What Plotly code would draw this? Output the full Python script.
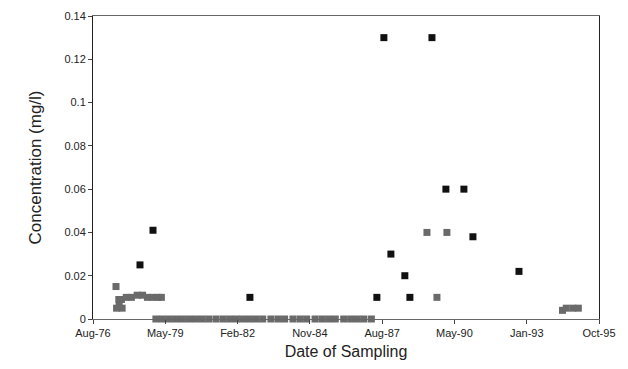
import pandas as pd
import plotly.graph_objects as go

# Black series (detected values)
black_dates = ["1978-06-09", "1978-12-06", "1982-08-08", "1987-05-30", "1987-09-04",
               "1987-12-10", "1988-06-20", "1988-08-29", "1989-06-30", "1990-01-09",
               "1990-09-15", "1991-01-18", "1992-10-16"]
black_vals = [0.025, 0.041, 0.010, 0.010, 0.130,
              0.030, 0.020, 0.010, 0.130, 0.060,
              0.060, 0.038, 0.022]

# Gray series (non-zero)
gray_dates = ["1977-07-12", "1977-07-20", "1977-08-25", "1977-10-05",
              "1977-08-20", "1977-09-25", "1977-12-01", "1978-02-10", "1978-05-01",
              "1978-07-15", "1978-09-20", "1978-12-01", "1979-02-15", "1979-04-01",
              "1989-04-22", "1989-09-07", "1990-01-23",
              "1994-06-10", "1994-08-01", "1994-11-01", "1995-01-15"]
gray_vals = [0.015, 0.005, 0.006, 0.005,
             0.009, 0.009, 0.010, 0.010, 0.011,
             0.011, 0.010, 0.010, 0.010, 0.010,
             0.040, 0.010, 0.040,
             0.004, 0.005, 0.005, 0.005]

# Gray series (zero / below detection)
zero_dates = ["1979-01-15", "1979-04-15", "1979-07-15", "1979-10-15", "1980-01-15",
              "1980-04-15", "1980-07-15", "1980-10-15", "1981-01-15", "1981-04-25",
              "1981-08-01", "1981-11-01", "1982-02-01", "1982-05-01", "1982-08-01",
              "1982-11-01", "1983-02-01", "1983-05-25", "1983-09-01", "1983-12-01",
              "1984-03-25", "1984-07-01", "1984-10-01", "1985-01-25", "1985-05-01",
              "1985-08-01", "1985-11-01", "1986-02-25", "1986-06-01", "1986-09-01",
              "1986-12-01", "1987-03-15"]
zero_vals = [0.0] * len(zero_dates)

tick_labels = ["Aug-76", "May-79", "Feb-82", "Nov-84", "Aug-87", "May-90", "Jan-93", "Oct-95"]
tick_serials = [28000, 29000, 30000, 31000, 32000, 33000, 34000, 35000]

base = pd.Timestamp("1899-12-30")
tick_vals = [base + pd.Timedelta(days=s) for s in tick_serials]

fig = go.Figure()
fig.add_trace(go.Scatter(x=zero_dates, y=zero_vals, mode="markers",
                         marker=dict(symbol="square", size=7, color="#6a6a6a"),
                         cliponaxis=False, showlegend=False))
fig.add_trace(go.Scatter(x=gray_dates, y=gray_vals, mode="markers",
                         marker=dict(symbol="square", size=7, color="#6a6a6a"),
                         cliponaxis=False, showlegend=False))
fig.add_trace(go.Scatter(x=black_dates, y=black_vals, mode="markers",
                         marker=dict(symbol="square", size=7, color="#111111"),
                         cliponaxis=False, showlegend=False))

fig.update_layout(
    width=620, height=361,
    margin=dict(l=85, r=29, t=8, b=50),
    paper_bgcolor="white", plot_bgcolor="white",
    font=dict(family="Liberation Sans, Arial, sans-serif", color="#222"),
    xaxis=dict(
        type="date", automargin=False,
        range=[tick_vals[0], tick_vals[-1]],
        tickmode="array", tickvals=tick_vals, ticktext=tick_labels,
        ticks="outside", ticklen=4, tickcolor="#444",
        showline=True, linecolor="#666", linewidth=1, mirror=True,
        showgrid=False, zeroline=False,
        tickfont=dict(size=11),
        title=dict(text="Date of Sampling", font=dict(size=16), standoff=7),
    ),
    yaxis=dict(
        automargin=False,
        range=[0, 0.14], dtick=0.02, tick0=0,
        ticks="outside", ticklen=4, tickcolor="#444",
        showline=True, linecolor="#222", linewidth=1, mirror=True,
        showgrid=False, zeroline=False,
        tickfont=dict(size=11),
        title=dict(text="Concentration (mg/l)", font=dict(size=17), standoff=18),
    ),
)

fig.write_html("out.html")
